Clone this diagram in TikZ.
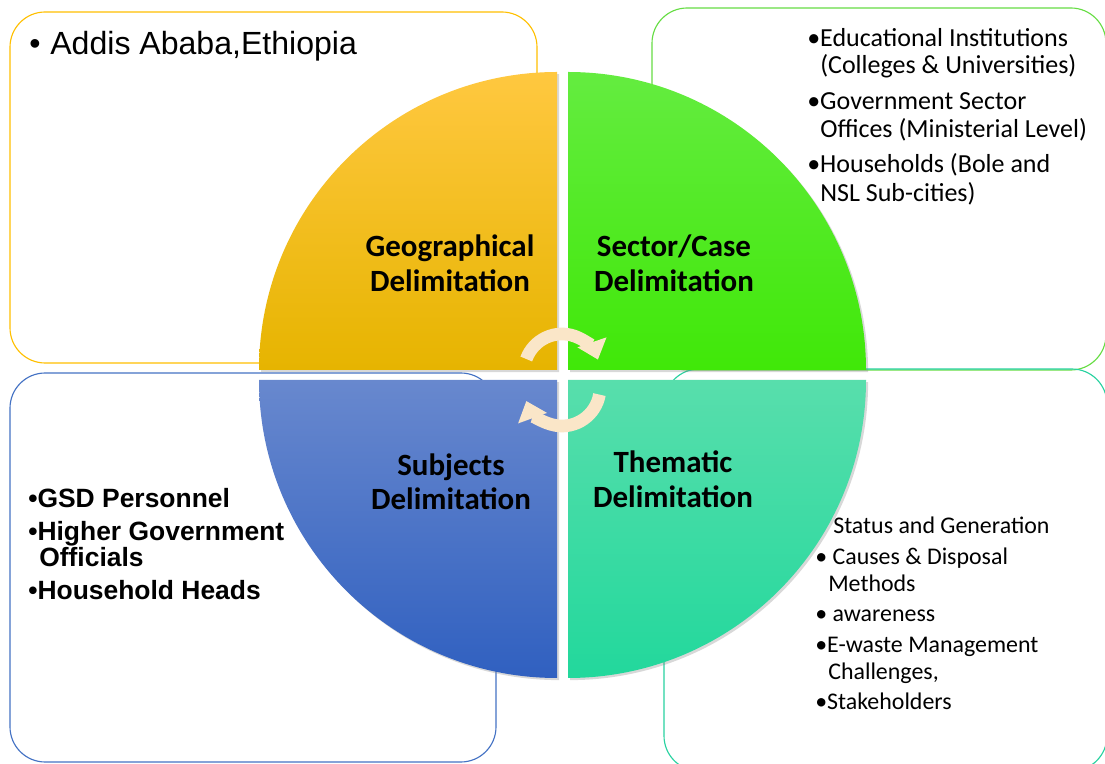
\documentclass[tikz,border=0pt]{standalone}
\usepackage{fontspec}
\usepackage{tikz}
\usepackage{xcolor}
\usetikzlibrary{arrows.meta,shadows}
\newfontfamily\carlito{Carlito}
\newfontfamily\arial{Liberation Sans}

\definecolor{geoTop}{RGB}{255,200,64}
\definecolor{geoBot}{RGB}{230,180,0}
\definecolor{secTop}{RGB}{100,236,64}
\definecolor{secBot}{RGB}{64,232,8}
\definecolor{subTop}{RGB}{104,136,206}
\definecolor{subBot}{RGB}{48,96,192}
\definecolor{theTop}{RGB}{88,222,172}
\definecolor{theBot}{RGB}{34,216,156}
\definecolor{geoLine}{RGB}{255,192,0}
\definecolor{secLine}{RGB}{102,221,68}
\definecolor{subLine}{RGB}{68,114,196}
\definecolor{theLine}{RGB}{40,210,160}
\definecolor{cream}{RGB}{250,230,200}

\tikzset{
  box/.style={rounded corners=25pt, line width=0.8pt},
  quad/.style={drop shadow={shadow xshift=1.5pt,shadow yshift=-1.5pt,opacity=0.3}},
  cyc/.style={draw=cream, line width=9pt, -{Triangle[width=21pt,length=13pt]}},
  lbl/.style={anchor=base, inner sep=0pt, font=\carlito\bfseries\fontsize{22}{25}\selectfont},
  tr/.style={anchor=base west, inner sep=0pt, font=\carlito\fontsize{18.5}{20}\selectfont},
  br/.style={anchor=base west, inner sep=0pt, font=\carlito\fontsize{17}{19}\selectfont},
  bl/.style={anchor=base west, inner sep=0pt, font=\arial\bfseries\fontsize{18.8}{20}\selectfont},
  tl/.style={anchor=base west, inner sep=0pt, font=\arial\fontsize{22.8}{24}\selectfont}
}

\begin{document}
\begin{tikzpicture}[x=0.025cm,y=0.025cm]
\useasboundingbox (0,0) rectangle (1105,763);
\fill[white] (0,0) rectangle (1105,763);

% outline boxes
\draw[box,geoLine] (10,400) rectangle (537,751);
\draw[box,secLine] (652,393) rectangle (1106,755);
\draw[box,subLine] (10,1) rectangle (496,390);
\draw[box,theLine] (664,-8) rectangle (1107,394);

% the four quarters
\shade[quad,top color=geoTop,bottom color=geoBot] (557,393) -- (259,393) arc[start angle=180,end angle=90,radius=298] -- cycle;
\shade[quad,top color=secTop,bottom color=secBot] (568,393) -- (568,691) arc[start angle=90,end angle=0,radius=298] -- cycle;
\shade[quad,top color=subTop,bottom color=subBot] (557,383) -- (557,85) arc[start angle=270,end angle=180,radius=298] -- cycle;
\shade[quad,top color=theTop,bottom color=theBot] (568,383) -- (866,383) arc[start angle=0,end angle=-90,radius=298] -- cycle;

% turning arrows
\draw[cyc] (562,391) ++(160:38) arc[start angle=160,end angle=19,radius=38];
\draw[cyc] (562,375) ++(-10:38) arc[start angle=-10,end angle=-160,radius=38];

% quarter labels
\node[lbl] (geo1) at (450,506) {Geographical};
\node[lbl] (geo2) at (450,471) {Delimitation};
\node[lbl] (sec1) at (674,506) {Sector/Case};
\node[lbl] (sec2) at (674,471) {Delimitation};
\node[lbl] (sub1) at (451,287) {Subjects};
\node[lbl] (sub2) at (451,253) {Delimitation};
\node[lbl] (the1) at (673,290) {Thematic};
\node[lbl] (the2) at (673,255) {Delimitation};

% top left
\node[tl] (addis) at (29,708) {•\hspace{7pt}Addis Ababa,Ethiopia};

% top right
\node[tr] (edu1) at (807,716) {•Educational Institutions};
\node[tr] (edu2) at (820,689) {(Colleges \& Universities)};
\node[tr] (gov1) at (807,653) {•Government Sector};
\node[tr] (gov2) at (820,625) {Offices (Ministerial Level)};
\node[tr] (hou1) at (807,590) {•Households (Bole and};
\node[tr] (hou2) at (820,561) {NSL Sub-cities)};

% bottom left
\node[bl] (gsd) at (28,255) {•GSD Personnel};
\node[bl] (hig1) at (28,222) {•Higher Government};
\node[bl] (hig2) at (39,196) {Officials};
\node[bl] (hhd) at (28,163) {•Household Heads};

% bottom right
\node[br] (sta) at (833,229) {Status and Generation};
\node[br] (cau1) at (815,198) {• Causes \& Disposal};
\node[br] (cau2) at (828,171) {Methods};
\node[br] (awa) at (815,141) {• awareness};
\node[br] (ewa1) at (815,110) {•E-waste Management};
\node[br] (ewa2) at (828,83) {Challenges,};
\node[br] (stk) at (815,53) {•Stakeholders};
\end{tikzpicture}
\end{document}
